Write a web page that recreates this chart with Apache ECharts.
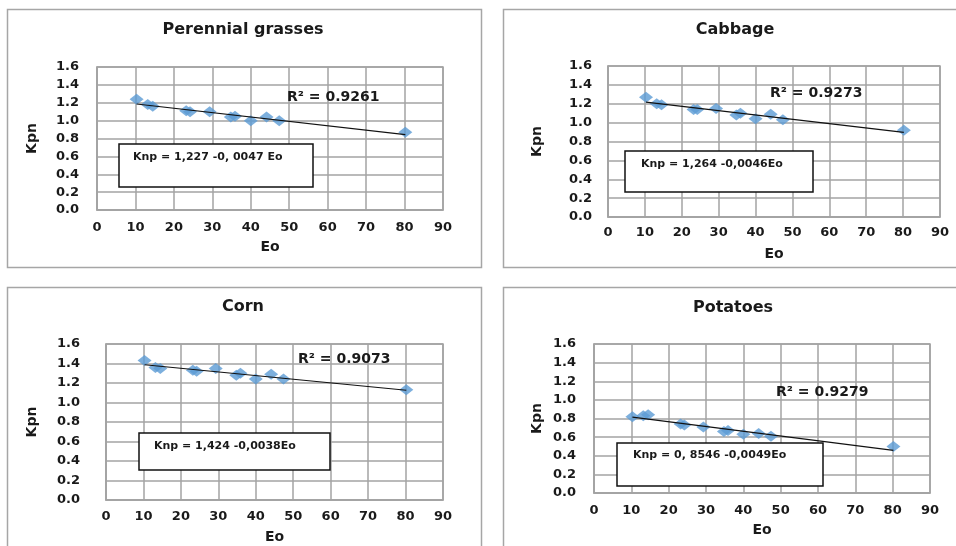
<!DOCTYPE html>
<html>
<head>
<meta charset="utf-8">
<title>Kpn vs Eo</title>
<script src="https://cdn.jsdelivr.net/npm/echarts@6.0.0/dist/echarts.min.js"></script>
<style>
  html, body { margin: 0; padding: 0; background: #fff; }
  #main { width: 956px; height: 546px; }
</style>
</head>
<body>
<div id="main"></div>
<script>
// Eo values (x), shared by all four crops
const eo = [10.3, 13.2, 14.5, 23.2, 24.2, 29.3, 34.8, 35.9, 40.0, 44.1, 47.4, 80.2]

// Kpn values
const kpnGrasses = [1.24, 1.18, 1.16, 1.11, 1.10, 1.10, 1.04, 1.05, 1.00, 1.04, 1.00, 0.87]
const kpnCabbage = [1.27, 1.20, 1.19, 1.14, 1.14, 1.15, 1.08, 1.10, 1.04, 1.09, 1.03, 0.92]
const kpnCorn = [1.43, 1.36, 1.35, 1.33, 1.32, 1.35, 1.28, 1.30, 1.24, 1.29, 1.24, 1.13]
const kpnPotatoes = [0.82, 0.83, 0.84, 0.74, 0.73, 0.71, 0.66, 0.67, 0.63, 0.64, 0.61, 0.50]

const cropNames = ['Perennial grasses', 'Cabbage', 'Corn', 'Potatoes']
const r2Labels = ['R² = 0.9261', 'R² = 0.9273', 'R² = 0.9073', 'R² = 0.9279']
const eqLabels = ['Knp = 1,227 -0, 0047 Eo', 'Knp = 1,264 -0,0046Eo', 'Knp = 1,424 -0,0038Eo', 'Knp = 0, 8546 -0,0049Eo']

// tick labels
const xTicks = [0, 10, 20, 30, 40, 50, 60, 70, 80, 90]
const yTicks = [0, 0.2, 0.4, 0.6, 0.8, 1.0, 1.2, 1.4, 1.6]

const kpnAll = [kpnGrasses, kpnCabbage, kpnCorn, kpnPotatoes]

// where each panel sits on the page
const layout = [
  { box: [7, 9, 474, 258], grid: [97, 67, 346, 143], title: [243, 22], r2: [287, 97], eqBox: [119, 144, 194, 43], eq: [133, 157], yMargin: 18, xMargin: 11 },
  { box: [503, 9, 470, 258], grid: [608, 66, 332, 151], title: [735, 22], r2: [770, 93], eqBox: [625, 151, 188, 41], eq: [641, 164], yMargin: 16, xMargin: 9 },
  { box: [7, 287, 474, 270], grid: [106, 344, 337, 156], title: [243, 299], r2: [298, 359], eqBox: [139, 433, 191, 37], eq: [154, 446], yMargin: 26, xMargin: 10 },
  { box: [503, 287, 470, 270], grid: [594, 344, 336, 149], title: [733, 300], r2: [776, 392], eqBox: [617, 443, 206, 43], eq: [633, 455], yMargin: 18, xMargin: 11 }
]

const font = 'DejaVu Sans'
const gridColor = '#a3a3a3'

// least squares line over the data, from first to last x
function trend(xs, ys) {
  let n = xs.length
  let mx = xs.reduce((a, b) => a + b, 0) / n
  let my = ys.reduce((a, b) => a + b, 0) / n
  let sxy = 0
  let sxx = 0
  for (let i = 0; i < n; i++) {
    sxy += (xs[i] - mx) * (ys[i] - my)
    sxx += (xs[i] - mx) * (xs[i] - mx)
  }
  let b = sxy / sxx
  let a = my - b * mx
  let x0 = Math.min(...xs)
  let x1 = Math.max(...xs)
  return [[x0, a + b * x0], [x1, a + b * x1]]
}

let titles = []
let grids = []
let xAxes = []
let yAxes = []
let series = []
let graphics = []

layout.forEach((p, i) => {
  titles.push({
    text: cropNames[i],
    left: p.title[0],
    top: p.title[1],
    textAlign: 'center',
    padding: 0,
    textStyle: { fontFamily: font, fontWeight: 'bold', fontSize: 16, color: '#1a1a1a' }
  })
  grids.push({
    left: p.grid[0], top: p.grid[1], width: p.grid[2], height: p.grid[3],
    show: true, borderColor: gridColor, borderWidth: 1.5, backgroundColor: '#fff'
  })
  xAxes.push({
    type: 'value',
    gridIndex: i,
    min: xTicks[0],
    max: xTicks[xTicks.length - 1],
    interval: xTicks[1] - xTicks[0],
    name: 'Eo',
    nameLocation: 'middle',
    nameGap: 30,
    nameTextStyle: { fontFamily: font, fontWeight: 'bold', fontSize: 14, color: '#1a1a1a' },
    axisLine: { show: true, lineStyle: { color: gridColor, width: 1.5 } },
    axisTick: { show: false },
    axisLabel: { margin: p.xMargin, fontFamily: font, fontWeight: 'bold', fontSize: 13, color: '#1a1a1a' },
    splitLine: { show: true, lineStyle: { color: gridColor, width: 1.5 } }
  })
  yAxes.push({
    type: 'value',
    gridIndex: i,
    min: yTicks[0],
    max: yTicks[yTicks.length - 1],
    interval: 0.2,
    name: 'Kpn',
    nameLocation: 'middle',
    nameRotate: 90,
    nameGap: p.grid[0] - (i % 2 ? 530 : 25) - 14,
    nameTextStyle: { fontFamily: font, fontWeight: 'bold', fontSize: 14, color: '#1a1a1a' },
    axisLine: { show: true, lineStyle: { color: gridColor, width: 1.5 } },
    axisTick: { show: false },
    axisLabel: {
      margin: p.yMargin, fontFamily: font, fontWeight: 'bold', fontSize: 13, color: '#1a1a1a',
      formatter: v => v.toFixed(1)
    },
    splitLine: { show: true, lineStyle: { color: gridColor, width: 1.5 } }
  })

  series.push({
    type: 'scatter',
    xAxisIndex: i,
    yAxisIndex: i,
    symbol: 'diamond',
    symbolSize: [14, 11],
    itemStyle: { color: '#5b9bd5' },
    z: 3,
    data: eo.map((x, k) => [x, kpnAll[i][k]])
  })
  series.push({
    type: 'line',
    xAxisIndex: i,
    yAxisIndex: i,
    showSymbol: false,
    symbol: 'none',
    lineStyle: { color: '#111', width: 1.2 },
    z: 4,
    data: trend(eo, kpnAll[i])
  })

  // chart frame, equation text box and R² label
  graphics.push({
    type: 'rect', z: -1, silent: true,
    shape: { x: p.box[0] + 0.5, y: p.box[1] + 0.5, width: p.box[2], height: p.box[3] },
    style: { fill: '#fff', stroke: '#a6a6a6', lineWidth: 1.5 }
  })
  graphics.push({
    type: 'rect', z: 10, silent: true,
    shape: { x: p.eqBox[0], y: p.eqBox[1], width: p.eqBox[2], height: p.eqBox[3] },
    style: { fill: '#fff', stroke: '#111', lineWidth: 1.5 }
  })
  graphics.push({
    type: 'text', z: 11, silent: true,
    x: p.eq[0], y: p.eq[1],
    style: { text: eqLabels[i], font: 'bold 11px "DejaVu Sans"', fill: '#1a1a1a', verticalAlign: 'middle' }
  })
  graphics.push({
    type: 'text', z: 11, silent: true,
    x: p.r2[0], y: p.r2[1],
    style: { text: r2Labels[i], font: 'bold 14px "DejaVu Sans"', fill: '#1a1a1a', verticalAlign: 'middle' }
  })
})

let myChart = echarts.init(document.getElementById('main'))
let option = {
  backgroundColor: '#fff',
  animation: false,
  title: titles,
  grid: grids,
  xAxis: xAxes,
  yAxis: yAxes,
  series: series,
  graphic: { elements: graphics }
}
myChart.setOption(option)
</script>
</body>
</html>
